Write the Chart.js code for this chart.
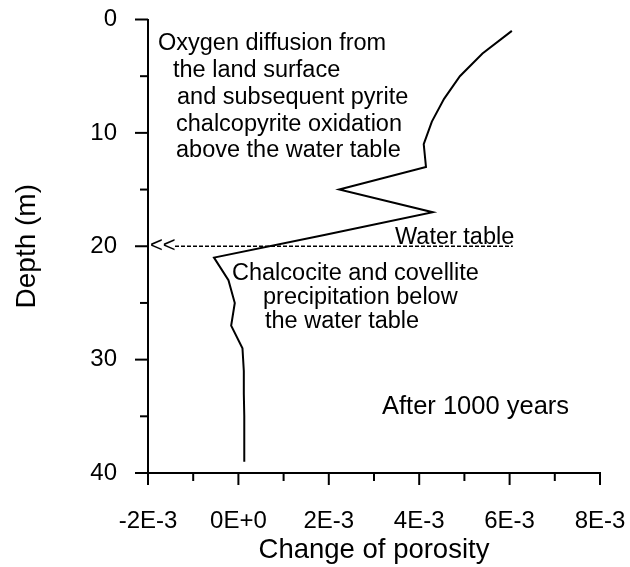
<!DOCTYPE html>
<html lang="en">
<head>
<meta charset="UTF-8">
<title>Change of porosity after 1000 years</title>
<script src="https://cdn.jsdelivr.net/npm/chart.js"></script>
<style>
  html, body { margin: 0; padding: 0; background: #fff; }
  #porosityChart { display: block; }
</style>
</head>
<body>
<canvas id="porosityChart" width="630" height="567"></canvas>
<script>
// depth below the land surface (m)
const depths = [1, 3, 5, 7, 9, 11, 13, 15, 17, 19, 21, 23, 25, 27, 29, 31, 33, 35, 37, 39];
// change of porosity at each depth
const porosityChange = [6.05e-3, 5.4e-3, 4.9e-3, 4.55e-3, 4.28e-3, 4.1e-3, 4.15e-3, 2.23e-3, 4.3e-3, 1.9e-3,
                        -0.54e-3, -0.22e-3, -0.08e-3, -0.16e-3, 0.09e-3, 0.12e-3, 0.12e-3, 0.13e-3, 0.13e-3, 0.13e-3];
const xTickLabels = ['-2E-3', '0E+0', '2E-3', '4E-3', '6E-3', '8E-3'];
const yTickLabels = ['0', '10', '20', '30', '40'];
const waterTableDepth = 20;

const FONT = '"Liberation Sans", Arial, sans-serif';

// labelled ticks sit every 2E-3 and every 10 m, the rest are minor
const xMajor = (v) => Math.round((v + 0.002) / 0.001) % 2 === 0;
const yMajor = (v) => Math.round(v) % 10 === 0;

// tick marks drawn by hand: long for labelled ticks, short for the others
// (the library's own tick lines are kept invisible, they only space the labels)
const tickMarks = {
    id: 'tickMarks',
    afterDraw: (chart) => {
        const ctx = chart.ctx;
        const xs = chart.scales.x, ys = chart.scales.y;
        const area = chart.chartArea;
        ctx.save();
        ctx.strokeStyle = '#000';
        ctx.lineWidth = 2;
        xs.ticks.forEach((t) => {
            const px = xs.getPixelForValue(t.value);
            ctx.beginPath();
            ctx.moveTo(px, area.bottom);
            ctx.lineTo(px, area.bottom + (xMajor(t.value) ? 12 : 8));
            ctx.stroke();
        });
        ys.ticks.forEach((t) => {
            const py = ys.getPixelForValue(t.value);
            ctx.beginPath();
            ctx.moveTo(area.left, py);
            ctx.lineTo(area.left - (yMajor(t.value) ? 13 : 8), py);
            ctx.stroke();
        });
        ctx.restore();
    }
};

// water table marker and the notes
const notes = {
    id: 'notes',
    afterDatasetsDraw: (chart) => {
        const ctx = chart.ctx;
        const xs = chart.scales.x, ys = chart.scales.y;
        const wy = ys.getPixelForValue(waterTableDepth);
        ctx.save();
        ctx.strokeStyle = '#000';
        ctx.lineWidth = 1.3;
        ctx.setLineDash([4, 2]);
        ctx.beginPath();
        ctx.moveTo(xs.left + 27, wy);
        ctx.lineTo(xs.getPixelForValue(6.07e-3), wy);
        ctx.stroke();
        ctx.setLineDash([]);

        ctx.fillStyle = '#000';
        ctx.textBaseline = 'middle';
        ctx.font = '22px ' + FONT;
        ctx.fillText('<<', xs.left + 2, wy);

        ctx.textBaseline = 'alphabetic';
        ctx.font = '23.5px ' + FONT;
        ctx.fillText('Oxygen diffusion from', 158, 50);
        ctx.fillText('the land surface', 173, 77);
        ctx.fillText('and subsequent pyrite', 177, 104);
        ctx.fillText('chalcopyrite oxidation', 176, 131);
        ctx.fillText('above the water table', 176, 157);
        ctx.fillText('Water table', 395, 244);
        ctx.fillText('Chalcocite and covellite', 232, 280);
        ctx.fillText('precipitation below', 263, 304);
        ctx.fillText('the water table', 265, 328);
        ctx.font = '25.5px ' + FONT;
        ctx.fillText('After 1000 years', 382, 414);
        ctx.restore();
    }
};

const ctx = document.getElementById('porosityChart').getContext('2d');
const chart = new Chart(ctx, {
    type: 'scatter',
    data: {
        datasets: [{
            data: depths.map((d, i) => ({ x: porosityChange[i], y: d })),
            showLine: true,
            borderColor: '#000',
            borderWidth: 2,
            pointRadius: 0,
            tension: 0
        }]
    },
    options: {
        responsive: false,
        animation: false,
        layout: { padding: { top: 19.5, right: 30, left: 0, bottom: 0 } },
        plugins: {
            legend: { display: false },
            tooltip: { enabled: false }
        },
        scales: {
            x: {
                type: 'linear',
                min: -0.002,
                max: 0.008,
                afterFit: (scale) => { scale.height = 94; },
                border: { display: true, color: '#000', width: 2 },
                grid: {
                    drawOnChartArea: false,
                    tickLength: 30,
                    tickColor: 'rgba(0,0,0,0)'
                },
                ticks: {
                    stepSize: 0.001,
                    autoSkip: false,
                    maxRotation: 0,
                    padding: 4,
                    color: '#000',
                    font: { family: FONT, size: 24 },
                    callback: (v) => (xMajor(v) ? xTickLabels[Math.round((v + 0.002) / 0.002)] : '')
                },
                title: {
                    display: true,
                    text: 'Change of porosity',
                    color: '#000',
                    font: { family: FONT, size: 27.5 },
                    padding: { top: 0, bottom: 0 }
                }
            },
            y: {
                type: 'linear',
                reverse: true,
                min: 0,
                max: 40,
                afterFit: (scale) => { scale.width = 148; },
                border: { display: true, color: '#000', width: 2 },
                grid: {
                    drawOnChartArea: false,
                    tickLength: 31,
                    tickColor: 'rgba(0,0,0,0)'
                },
                ticks: {
                    stepSize: 5,
                    autoSkip: false,
                    padding: 0,
                    color: '#000',
                    font: { family: FONT, size: 24 },
                    callback: (v) => (yMajor(v) ? yTickLabels[Math.round(v / 10)] : '')
                },
                title: {
                    display: true,
                    text: 'Depth (m)',
                    color: '#000',
                    font: { family: FONT, size: 28 },
                    padding: { top: 10, bottom: 0 }
                }
            }
        }
    },
    plugins: [tickMarks, notes]
});
</script>
</body>
</html>
